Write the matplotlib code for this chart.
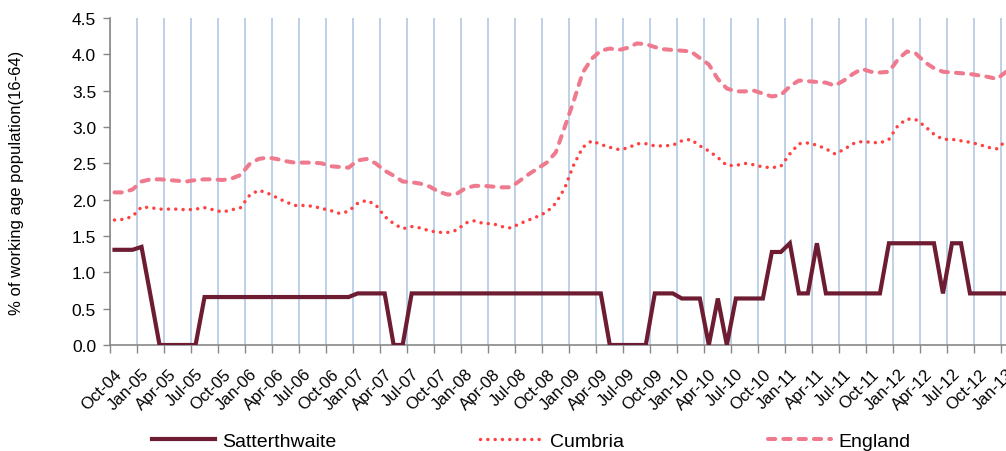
import numpy as np
import matplotlib
matplotlib.use("Agg")
import matplotlib.pyplot as plt

# ---- data (monthly, Oct-04 onwards) ----
quarter_labels = [
    "Oct-04", "Jan-05", "Apr-05", "Jul-05", "Oct-05", "Jan-06", "Apr-06", "Jul-06",
    "Oct-06", "Jan-07", "Apr-07", "Jul-07", "Oct-07", "Jan-08", "Apr-08", "Jul-08",
    "Oct-08", "Jan-09", "Apr-09", "Jul-09", "Oct-09", "Jan-10", "Apr-10", "Jul-10",
    "Oct-10", "Jan-11", "Apr-11", "Jul-11", "Oct-11", "Jan-12", "Apr-12", "Jul-12",
    "Oct-12", "Jan-13",
]

satterthwaite = [
    1.31, 1.31, 1.31, 1.35, 0.68, 0.00, 0.00, 0.00, 0.00, 0.00,
    0.66, 0.66, 0.66, 0.66, 0.66, 0.66, 0.66, 0.66, 0.66, 0.66,
    0.66, 0.66, 0.66, 0.66, 0.66, 0.66, 0.66, 0.71, 0.71, 0.71,
    0.71, 0.00, 0.00, 0.71, 0.71, 0.71, 0.71, 0.71, 0.71, 0.71,
    0.71, 0.71, 0.71, 0.71, 0.71, 0.71, 0.71, 0.71, 0.71, 0.71,
    0.71, 0.71, 0.71, 0.71, 0.71, 0.00, 0.00, 0.00, 0.00, 0.00,
    0.71, 0.71, 0.71, 0.64, 0.64, 0.64, 0.00, 0.64, 0.00, 0.64,
    0.64, 0.64, 0.64, 1.28, 1.28, 1.40, 0.71, 0.71, 1.40, 0.71,
    0.71, 0.71, 0.71, 0.71, 0.71, 0.71, 1.40, 1.40, 1.40, 1.40,
    1.40, 1.40, 0.71, 1.40, 1.40, 0.71, 0.71, 0.71, 0.71, 0.71,
]

cumbria = [
    1.72, 1.73, 1.77, 1.90, 1.89, 1.87, 1.87, 1.87, 1.86, 1.87,
    1.89, 1.86, 1.83, 1.86, 1.89, 2.06, 2.13, 2.09, 2.03, 1.97,
    1.92, 1.92, 1.91, 1.88, 1.85, 1.81, 1.84, 1.95, 1.99, 1.93,
    1.77, 1.67, 1.60, 1.63, 1.61, 1.57, 1.55, 1.55, 1.58, 1.68,
    1.71, 1.67, 1.67, 1.63, 1.61, 1.67, 1.72, 1.77, 1.83, 1.95,
    2.16, 2.48, 2.72, 2.81, 2.76, 2.72, 2.69, 2.71, 2.77, 2.77,
    2.74, 2.74, 2.75, 2.81, 2.83, 2.74, 2.67, 2.58, 2.47, 2.47,
    2.50, 2.48, 2.45, 2.44, 2.46, 2.63, 2.77, 2.78, 2.75, 2.70,
    2.63, 2.69, 2.77, 2.80, 2.79, 2.78, 2.83, 3.02, 3.11, 3.10,
    3.01, 2.90, 2.83, 2.83, 2.81, 2.79, 2.76, 2.72, 2.70, 2.81,
]

england = [
    2.10, 2.10, 2.14, 2.25, 2.28, 2.28, 2.27, 2.26, 2.25, 2.27,
    2.28, 2.28, 2.27, 2.29, 2.34, 2.49, 2.56, 2.58, 2.56, 2.53,
    2.51, 2.51, 2.51, 2.50, 2.46, 2.45, 2.44, 2.54, 2.56, 2.50,
    2.40, 2.33, 2.25, 2.24, 2.22, 2.18, 2.11, 2.07, 2.08, 2.16,
    2.19, 2.19, 2.18, 2.17, 2.17, 2.26, 2.35, 2.43, 2.51, 2.65,
    3.00, 3.36, 3.75, 3.94, 4.05, 4.08, 4.06, 4.09, 4.15, 4.14,
    4.10, 4.07, 4.06, 4.05, 4.04, 3.95, 3.86, 3.66, 3.53, 3.49,
    3.49, 3.50, 3.46, 3.42, 3.44, 3.56, 3.64, 3.63, 3.62, 3.61,
    3.57, 3.64, 3.73, 3.80, 3.76, 3.75, 3.76, 3.93, 4.04, 4.01,
    3.89, 3.81, 3.76, 3.75, 3.74, 3.73, 3.71, 3.69, 3.66, 3.76,
]

series_names = ["Satterthwaite", "Cumbria", "England"]
y_label = "% of working age population(16-64)"

# ---- styling ----
plt.rcParams["font.family"] = ["Liberation Sans", "DejaVu Sans"]
C_SAT = "#6d1c32"
C_CUM = "#ff4141"
C_ENG = "#ef7a8e"
C_GRID = "#b9cde5"
C_AXIS = "#878787"

W, H = 1006, 452
fig = plt.figure(figsize=(W / 100, H / 100), dpi=100)
ax_left, ax_right, ax_top, ax_bottom = 110, 1006, 19, 346
ax = fig.add_axes([ax_left / W, (H - ax_bottom) / H,
                   (ax_right - ax_left) / W, (ax_bottom - ax_top) / H])

x = np.arange(len(satterthwaite))
month_px = 27.04 / 3.0
x_right = -0.5 + (ax_right - ax_left) / month_px

l_eng, = ax.plot(x, england, color=C_ENG, lw=2.9, linestyle=(0, (1.8, 2.0)),
                 dash_capstyle="round", zorder=3)
l_cum, = ax.plot(x, cumbria, color=C_CUM, lw=2.5, linestyle=(0, (0.01, 2.1)),
                 dash_capstyle="round", zorder=3)
l_sat, = ax.plot(x, satterthwaite, color=C_SAT, lw=3.0, zorder=4,
                 solid_joinstyle="miter")

ax.set_xlim(-0.5, x_right)
ax.set_ylim(0, 4.5)

# y axis
yticks = np.arange(0, 4.51, 0.5)
ax.set_yticks(yticks)
ax.set_yticklabels([f"{v:.1f}" for v in yticks], fontsize=12.5)
ax.tick_params(axis="y", length=5, width=1, color=C_AXIS, pad=5, labelcolor="#000000")
ax.set_ylabel(y_label, fontsize=12)
ax.yaxis.set_label_coords(-(110 - 24) / (ax_right - ax_left), 0.5)

# x axis: labels at category centres, tick marks/gridlines at boundaries
major = np.arange(len(quarter_labels)) * 3
minor = major - 0.5
ax.set_xticks(major)
ax.set_xticklabels(quarter_labels, fontsize=12, rotation=45, ha="right",
                   va="top", rotation_mode="anchor")
ax.set_xticks(minor, minor=True)
ax.tick_params(axis="x", which="major", length=0, pad=15)
ax.tick_params(axis="x", which="minor", length=6, width=1, color=C_AXIS)
ax.grid(True, which="minor", axis="x", color=C_GRID, lw=1.3, zorder=0)
ax.grid(False, which="major")
ax.set_axisbelow(True)

for s in ["top", "right"]:
    ax.spines[s].set_visible(False)
for s in ["left", "bottom"]:
    ax.spines[s].set_color(C_AXIS)
    ax.spines[s].set_linewidth(1.2)

# legend: three entries placed along the bottom
leg_y = (H - 442) / H
for handle, name, xpx in [(l_sat, series_names[0], 152),
                          (l_cum, series_names[1], 480),
                          (l_eng, series_names[2], 768)]:
    fig.legend([handle], [name], loc="center left",
               bbox_to_anchor=(xpx / W, leg_y), frameon=False,
               fontsize=14, handlelength=3.25, handletextpad=0.35,
               borderpad=0, borderaxespad=0)

fig.savefig("out.png", dpi=100)
